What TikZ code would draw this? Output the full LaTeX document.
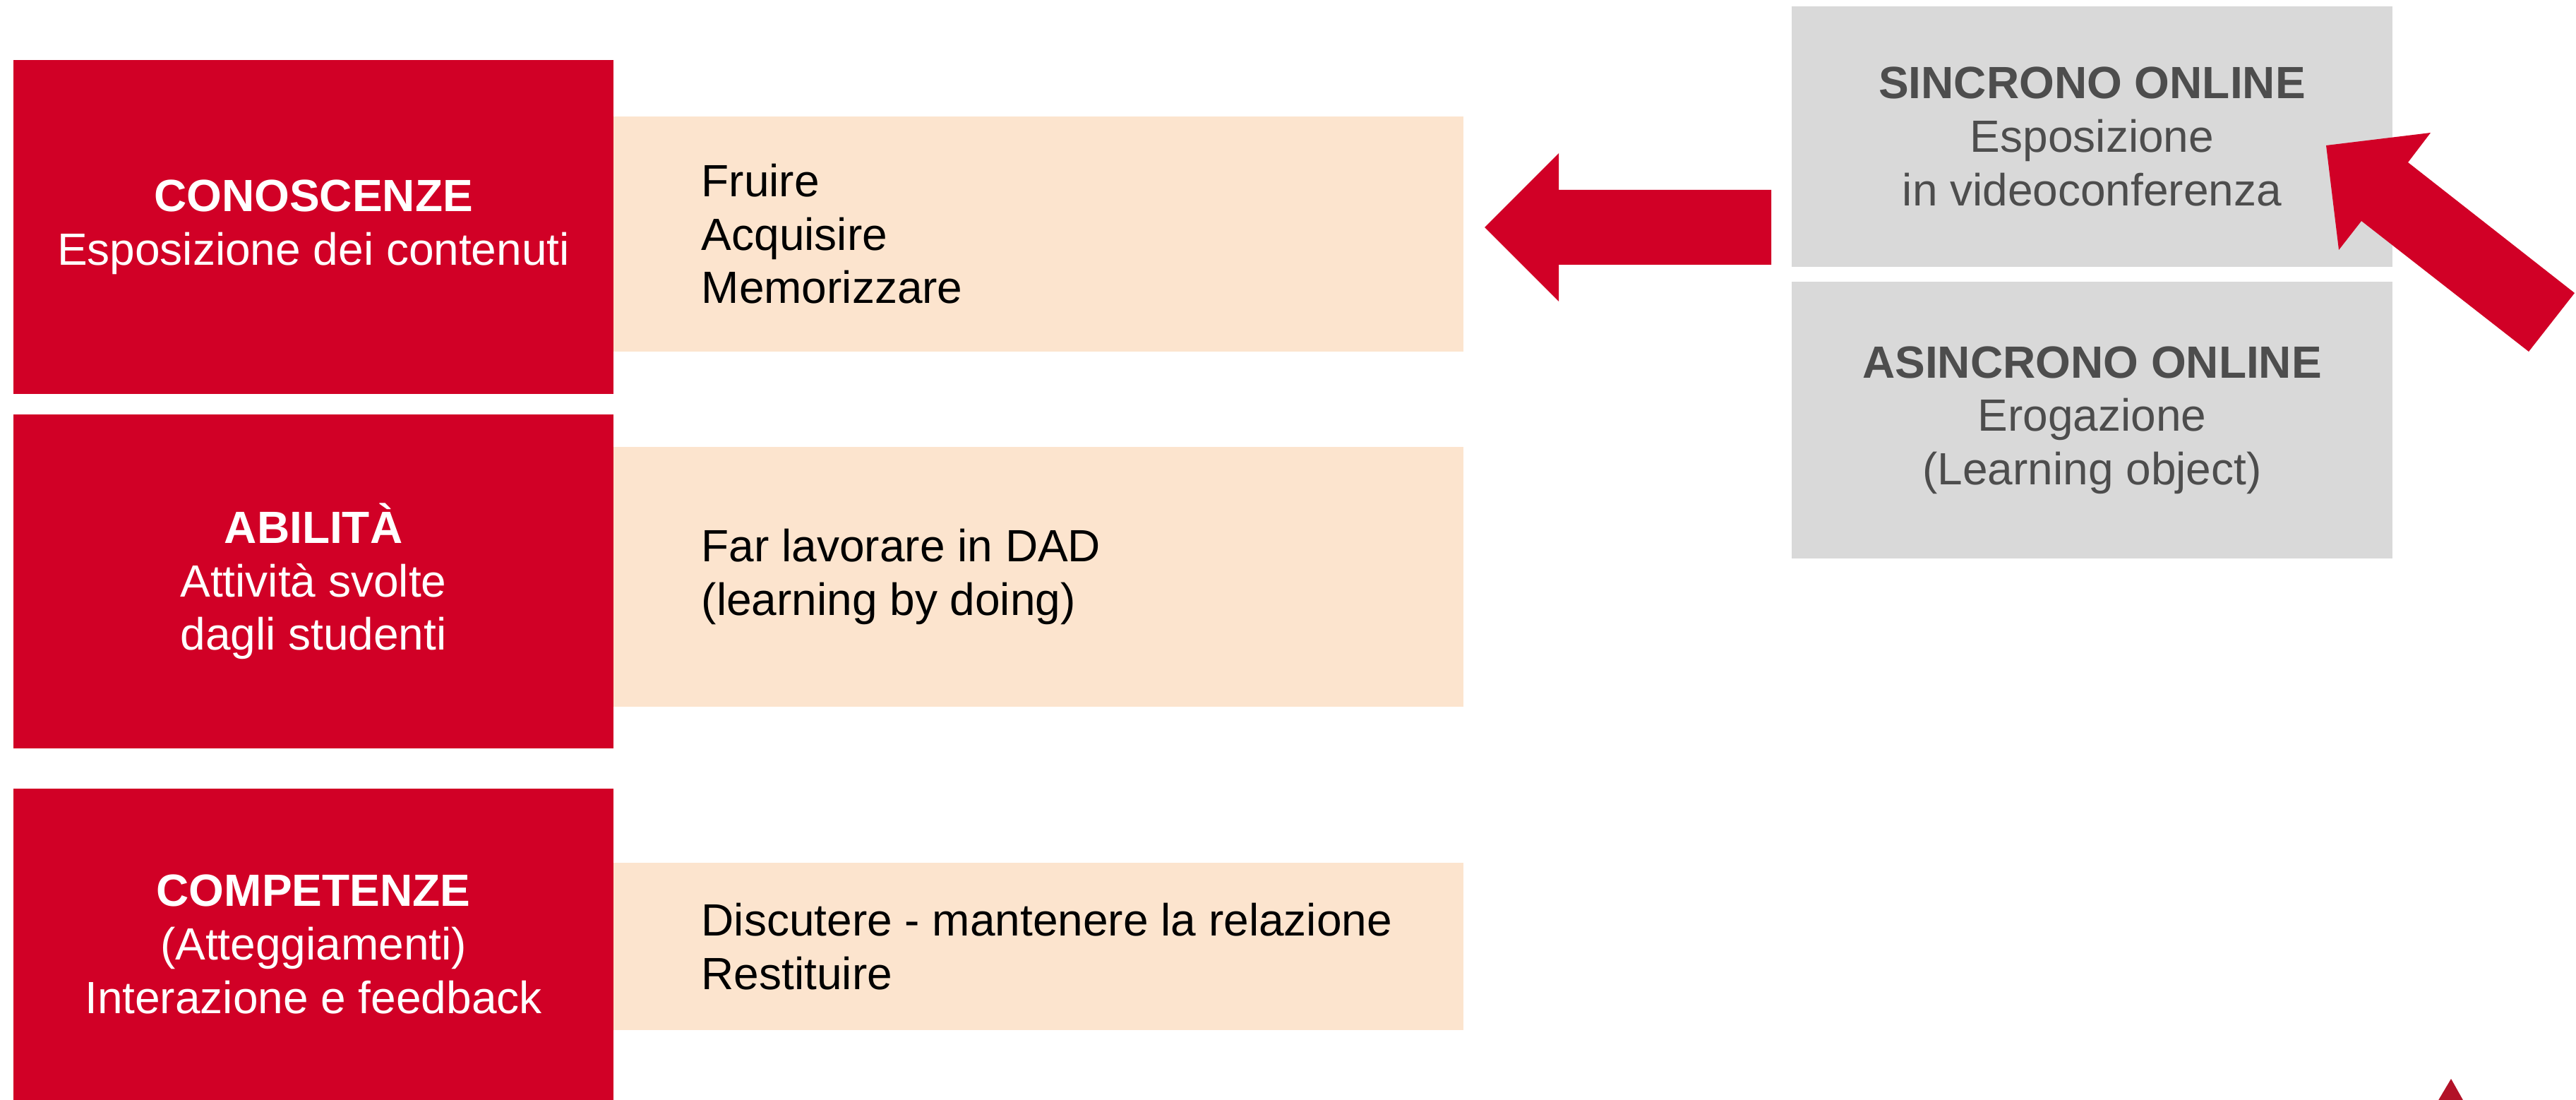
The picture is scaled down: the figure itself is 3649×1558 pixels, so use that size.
\documentclass[tikz,border=0pt]{standalone}
\usepackage{fontspec}
\setmainfont{Liberation Sans}
\definecolor{boxred}{RGB}{209,0,38}
\definecolor{darkred}{RGB}{178,18,40}
\definecolor{boxbeige}{RGB}{252,228,206}
\definecolor{boxgray}{RGB}{217,217,217}
\definecolor{textgray}{RGB}{77,77,77}
\begin{document}
\begin{tikzpicture}[x=0.01cm,y=-0.01cm,
  basefont/.style={font=\fontsize{18.2pt}{21.5pt}\selectfont},
  redbox/.style={basefont,fill=boxred,text=white,align=center,inner sep=0pt,minimum width=8.5cm},
  beigebox/.style={fill=boxbeige,inner sep=0pt,minimum width=12.04cm},
  beigetext/.style={basefont,text=black,align=left,inner sep=0pt,anchor=west},
  graybox/.style={basefont,fill=boxgray,text=textgray,align=center,inner sep=0pt,minimum width=8.51cm},
  blockarrow/.style={fill=boxred}]
\clip (0,0) rectangle (3649,1558);
\fill[white] (0,0) rectangle (3649,1558);

% left column (red)
\node[redbox,minimum height=4.73cm] (kn) at (444,321.5) {\textbf{CONOSCENZE}\\Esposizione dei contenuti};
\node[redbox,minimum height=4.73cm] (ab) at (444,823.5) {\textbf{ABILITÀ}\\Attività svolte\\dagli studenti};
\node[redbox,minimum height=4.41cm] (co) at (444,1337.5) {\textbf{COMPETENZE}\\(Atteggiamenti)\\Interazione e feedback};

% middle column (beige)
\node[beigebox,minimum height=3.33cm] (fr) at (1471,331.5) {};
\node[beigetext] (frt) at ([xshift=1.25cm]fr.west) {Fruire\\Acquisire\\Memorizzare};
\node[beigebox,minimum height=3.68cm] (fl) at (1471,817) {};
\node[beigetext] (flt) at ([xshift=1.25cm]fl.west) {Far lavorare in DAD\\(learning by doing)};
\node[beigebox,minimum height=2.37cm] (di) at (1471,1340.5) {};
\node[beigetext] (dit) at ([xshift=1.25cm]di.west) {Discutere - mantenere la relazione\\Restituire};

% right column (gray)
\node[graybox,minimum height=3.69cm] (si) at (2963.5,193.5) {\textbf{SINCRONO ONLINE}\\Esposizione\\in videoconferenza};
\node[graybox,minimum height=3.92cm] (as) at (2963.5,595) {\textbf{ASINCRONO ONLINE}\\Erogazione\\(Learning object)};

% block arrow from the online column to the beige box
\fill[blockarrow] (2103,322) -- (2208,217) -- (2208,269) -- (2509,269) -- (2509,375) -- (2208,375) -- (2208,427) -- cycle;

% diagonal block arrow pointing at SINCRONO ONLINE
\fill[blockarrow] (3295,206) -- (3443,188) -- (3411,230) -- (3647,415) -- (3582,498) -- (3345,313) -- (3313,354) -- cycle;

% partial triangle at the bottom right
\fill[darkred] (3472,1528) -- (3490,1560) -- (3453,1560) -- cycle;
\end{tikzpicture}
\end{document}
